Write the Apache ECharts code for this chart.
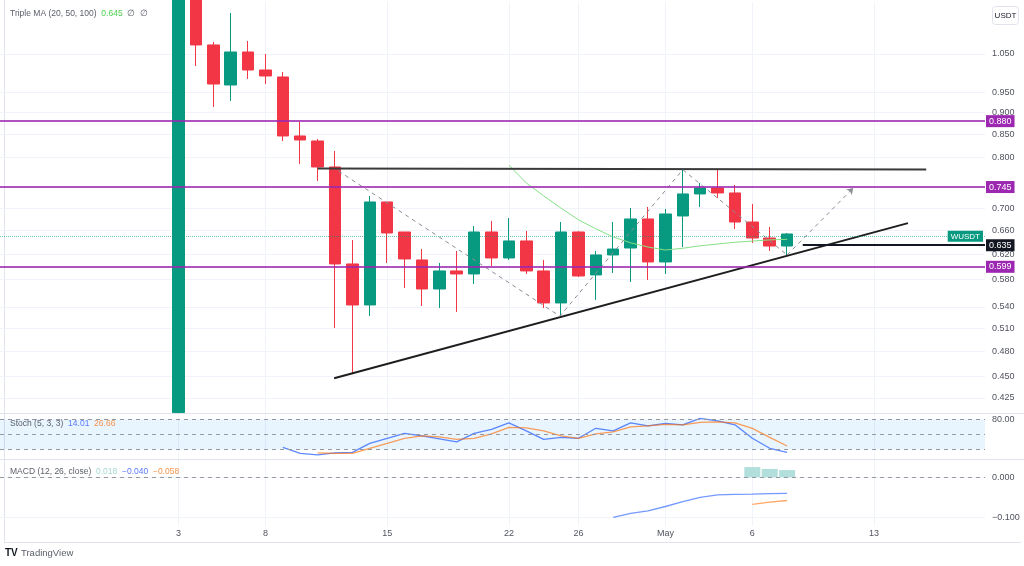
<!DOCTYPE html>
<html><head><meta charset="utf-8">
<script src="https://cdn.jsdelivr.net/npm/echarts@6/dist/echarts.min.js"></script>
<style>html,body{margin:0;padding:0;background:#fff}#c{width:1024px;height:566px}</style>
</head><body><div id="c"></div>
<script>
// ---------- data ----------
const dates = ['2024-04-03','2024-04-04','2024-04-05','2024-04-06','2024-04-07','2024-04-08','2024-04-09','2024-04-10','2024-04-11','2024-04-12',
  '2024-04-13','2024-04-14','2024-04-15','2024-04-16','2024-04-17','2024-04-18','2024-04-19','2024-04-20','2024-04-21','2024-04-22',
  '2024-04-23','2024-04-24','2024-04-25','2024-04-26','2024-04-27','2024-04-28','2024-04-29','2024-04-30','2024-05-01','2024-05-02',
  '2024-05-03','2024-05-04','2024-05-05','2024-05-06','2024-05-07','2024-05-08'];
const open  = [0.409,1.25,1.0752,0.9678,1.0555,1.0067,0.9884,0.8464,0.8353,0.7801,0.6045,0.5427,0.7115,0.6575,0.6109,0.5660,0.5935,0.5888,0.6575,0.6141,0.6422,0.5935,0.5456,0.6575,0.5873,0.6190,0.6304,0.6804,0.6077,0.6858,0.7267,0.7382,0.7286,0.6750,0.6472,0.6337];
const close = [1.25,1.0752,0.9703,1.0555,1.0067,0.9910,0.8464,0.8375,0.7801,0.6045,0.5427,0.7115,0.6558,0.6125,0.5660,0.5935,0.5888,0.6575,0.6141,0.6422,0.5935,0.5456,0.6575,0.5857,0.6190,0.6287,0.6804,0.6077,0.6894,0.7267,0.7382,0.7286,0.6750,0.6472,0.6337,0.6541];
const low   = [0.409,1.0174,0.9134,0.9279,0.9832,0.9703,0.8353,0.7863,0.7519,0.5108,0.4538,0.5272,0.6061,0.5675,0.5413,0.5384,0.5328,0.5735,0.6013,0.6109,0.5888,0.5384,0.5272,0.5842,0.5499,0.5903,0.5765,0.5796,0.5888,0.6321,0.7022,0.7191,0.6627,0.6388,0.6255,0.6173];
const high  = [1.32,1.30,1.0836,1.1695,1.0865,1.05,1.0015,0.8781,0.8397,0.8136,0.6438,0.7228,0.7115,0.6575,0.6287,0.6061,0.6255,0.6680,0.6769,0.6822,0.6593,0.6109,0.6750,0.6590,0.6255,0.6750,0.7004,0.7022,0.6985,0.7740,0.7479,0.7760,0.7440,0.7078,0.6662,0.6558];
const ma20 = [null,null,null,null,null,null,null,null,null,null,null,null,null,null,null,null,null,null,null,
  0.784,0.748,0.723,0.700,0.679,0.663,0.649,0.639,0.632,0.627,0.630,0.634,0.637,0.640,0.642,0.644,0.645];
const stochK = [null,null,null,null,null,null,24,12,9,13,14,32,42,52,47,41,35,52,60,73,57,40,44,42,62,57,73,67,72,69,82,77,69,42,22,14.01];
const stochD = [null,null,null,null,null,null,null,null,13,12,12,22,32,42,47,45,40,42,51,64,63,57,47,42,51,55,65,67,70,69,74,75,73,62,44,26.66];
const macdLine = [null,null,null,null,null,null,null,null,null,null,null,null,null,null,null,null,null,null,null,null,null,null,null,null,null,
  -0.100,-0.090,-0.084,-0.073,-0.061,-0.050,-0.044,-0.0425,-0.042,-0.041,-0.040];
const macdSignal = [null,null,null,null,null,null,null,null,null,null,null,null,null,null,null,null,null,null,null,null,null,null,null,null,null,
  null,null,null,null,null,null,null,null,-0.0675,-0.062,-0.058];
const macdHist = [null,null,null,null,null,null,null,null,null,null,null,null,null,null,null,null,null,null,null,null,null,null,null,null,null,
  null,null,null,null,null,null,null,null,0.0255,0.021,0.018];

// drawings (x in days from first date, y in price)
const resistanceLine = [[8, 0.777], [43, 0.775]];
const trendLine = [[8.95, 0.4476], [41.95, 0.673]];
const zigzag = [[9.2, 0.772], [21.93, 0.527], [29, 0.7745], [35, 0.619], [38.8, 0.738]];
const levels = [0.880, 0.745, 0.599];
const entryLevel = 0.635, entryStartX = 35.9;
const noteX = [41.4, 39.3, 38.3, 36.6];
const noteY = [0.899, 0.760, 0.5888, 0.6438];
const noteText = ['TP', 'TP', 'SL', 'entry'];

// ticks
const priceTicks = [1.05, 0.95, 0.9, 0.85, 0.8, 0.7, 0.66, 0.62, 0.58, 0.54, 0.51, 0.48, 0.45, 0.425];
const timeTickDates = ['2024-04-03','2024-04-08','2024-04-15','2024-04-22','2024-04-26','2024-05-01','2024-05-06','2024-05-13'];
const timeTickLabels = ['3','8','15','22','26','May','6','13'];

// ---------- chart ----------
const FONT = "'Liberation Sans', Arial, sans-serif";
const DAY = 864e5;
const t0 = Date.parse(dates[0]);
const xOf = d => (Date.parse(d) - t0) / DAY;
const X_MIN = -10.265, X_MAX = 46.38;
const P_MIN = 0.4085, P_MAX = 1.2038;
const timeTickX = timeTickDates.map(xOf);
const labelFor = v => { const i = timeTickX.findIndex(t => Math.abs(t - v) < 1e-6); return i >= 0 ? timeTickLabels[i] : ''; };
const pairs = arr => dates.map((d, i) => [xOf(d), arr[i]]).filter(p => p[1] != null);

const UP = '#089981', DOWN = '#f23645', PURPLE = '#9c27b0';
const AX_COL = '#50535e';

function xAxisCfg(i, show) {
  return { type: 'value', gridIndex: i, min: X_MIN, max: X_MAX,
    axisLine: { show: false }, axisTick: { show: false, customValues: timeTickX },
    splitLine: { show: true, lineStyle: { color: '#f0f3fa', width: 1 } },
    axisLabel: { show: show, customValues: timeTickX, formatter: labelFor, color: AX_COL, fontSize: 9, margin: 3, fontFamily: FONT } };
}

const candleData = dates.map((d, i) => [xOf(d), open[i], close[i], low[i], high[i]]);
const last = close[close.length - 1];

const option = {
  animation: false,
  backgroundColor: '#ffffff',
  grid: [
    { left: 0, right: 39, top: 2, height: 411 },
    { left: 0, right: 39, top: 414, height: 45 },
    { left: 0, right: 39, top: 460, height: 66 }
  ],
  xAxis: [xAxisCfg(0, false), xAxisCfg(1, false), xAxisCfg(2, true)],
  yAxis: [
    { type: 'log', logBase: 10, gridIndex: 0, position: 'right', min: P_MIN, max: P_MAX,
      axisLine: { show: false }, axisTick: { show: false, customValues: priceTicks },
      axisLabel: { customValues: priceTicks, formatter: v => v.toFixed(3), color: AX_COL, fontSize: 9, margin: 7, fontFamily: FONT },
      splitLine: { show: true, lineStyle: { color: '#f0f3fa', width: 1 } } },
    { type: 'value', gridIndex: 1, position: 'right', min: 0.6, max: 90.6,
      axisLine: { show: false }, axisTick: { show: false, customValues: [80] },
      axisLabel: { customValues: [80], formatter: v => v.toFixed(2), color: AX_COL, fontSize: 9, margin: 7, fontFamily: FONT },
      splitLine: { show: false } },
    { type: 'value', gridIndex: 2, position: 'right', min: -0.12175, max: 0.04325,
      axisLine: { show: false }, axisTick: { show: false, customValues: [0, -0.1] },
      axisLabel: { customValues: [0, -0.1], formatter: v => (v < 0 ? '\u2212' : '') + Math.abs(v).toFixed(3), color: AX_COL, fontSize: 9, margin: 7, fontFamily: FONT },
      splitLine: { show: true, lineStyle: { color: '#f0f3fa', width: 1 } } }
  ],
  series: [
    { type: 'candlestick', xAxisIndex: 0, yAxisIndex: 0, data: candleData, encode: { x: 0, y: [1, 2, 3, 4] },
      barWidth: 12, clip: true,
      itemStyle: { color: UP, color0: DOWN, borderColor: UP, borderColor0: DOWN, borderWidth: 1 },
      markLine: { silent: true, symbol: ['none', 'none'], animation: false,
        data: [{ yAxis: last, lineStyle: { color: 'rgba(8,153,129,0.6)', type: 'dotted', width: 1 },
          label: { show: true, position: 'insideEnd', distance: 2, formatter: 'WUSDT', color: '#ffffff', backgroundColor: UP,
            padding: [2, 3, 1, 3], fontSize: 8, fontFamily: FONT } }] } },
    { type: 'line', xAxisIndex: 0, yAxisIndex: 0, data: pairs(ma20), symbol: 'none',
      lineStyle: { color: '#86e186', width: 1 }, z: 3,
      markLine: { silent: true, symbol: ['none', 'none'], animation: false,
        data: levels.map(v => ({ yAxis: v, lineStyle: { color: 'rgba(156,39,176,0.8)', width: 2, type: 'solid' },
          label: { show: true, position: 'end', distance: 1, formatter: v.toFixed(3), color: '#fff', backgroundColor: PURPLE,
            padding: [2, 3, 1, 3], fontSize: 9, fontFamily: FONT } })).concat([[
          { coord: [entryStartX, entryLevel], lineStyle: { color: '#131722', width: 2, type: 'solid' },
            label: { show: true, position: 'end', distance: 1, formatter: entryLevel.toFixed(3), color: '#fff', backgroundColor: '#131722',
              padding: [2, 3, 1, 3], fontSize: 9, fontFamily: FONT } },
          { coord: [X_MAX, entryLevel] }]]) } },
    { type: 'line', xAxisIndex: 0, yAxisIndex: 0, data: resistanceLine, symbol: 'none',
      lineStyle: { color: '#3a3a3a', width: 2 }, z: 4 },
    { type: 'line', xAxisIndex: 0, yAxisIndex: 0, data: trendLine, symbol: 'none',
      lineStyle: { color: '#1e1e1e', width: 2 }, z: 4 },
    { type: 'line', xAxisIndex: 0, yAxisIndex: 0, data: zigzag.slice(0, 4), symbol: 'none',
      lineStyle: { color: '#8a8d96', width: 1, type: [4, 4] }, z: 4,
      markLine: { silent: true, animation: false, symbol: ['none', 'arrow'], symbolSize: 6,
        lineStyle: { color: '#8a8d96', width: 1, type: [4, 4] }, label: { show: false },
        data: [[{ coord: zigzag[3] }, { coord: zigzag[4] }]] } },
    { type: 'scatter', xAxisIndex: 0, yAxisIndex: 0, symbolSize: 1, itemStyle: { opacity: 0 }, z: 5,
      data: noteX.map((x, i) => [x, noteY[i], noteText[i]]),
      label: { show: true, position: 'inside', formatter: p => p.value[2], color: '#131722', fontSize: 9, fontStyle: 'italic', fontFamily: FONT } },
    // Stoch
    { type: 'line', xAxisIndex: 1, yAxisIndex: 1, data: pairs(stochK), symbol: 'none',
      lineStyle: { color: '#2962ff', width: 1.3, opacity: 0.75 }, z: 3,
      markArea: { silent: true, itemStyle: { color: 'rgba(33,150,243,0.1)' }, data: [[{ yAxis: 20 }, { yAxis: 80 }]] },
      markLine: { silent: true, symbol: ['none', 'none'], label: { show: false },
        lineStyle: { color: '#9598a1', type: [4, 4], width: 1 }, data: [{ yAxis: 80 }, { yAxis: 50 }, { yAxis: 20 }] } },
    { type: 'line', xAxisIndex: 1, yAxisIndex: 1, data: pairs(stochD), symbol: 'none',
      lineStyle: { color: '#ff6d00', width: 1.3, opacity: 0.65 }, z: 3 },
    // MACD
    { type: 'bar', xAxisIndex: 2, yAxisIndex: 2, data: pairs(macdHist), barWidth: 16,
      itemStyle: { color: '#b2dfdb' },
      markLine: { silent: true, symbol: ['none', 'none'], label: { show: false },
        lineStyle: { color: '#9598a1', type: [4, 4], width: 1 }, data: [{ yAxis: 0 }] } },
    { type: 'line', xAxisIndex: 2, yAxisIndex: 2, data: pairs(macdLine), symbol: 'none',
      lineStyle: { color: '#2962ff', width: 1.3, opacity: 0.65 } },
    { type: 'line', xAxisIndex: 2, yAxisIndex: 2, data: pairs(macdSignal), symbol: 'none',
      lineStyle: { color: '#ff6d00', width: 1.3, opacity: 0.6 } }
  ],
  graphic: [
    { type: 'line', shape: { x1: 0, y1: 413.5, x2: 1024, y2: 413.5 }, style: { stroke: '#e0e3eb', lineWidth: 1 }, silent: true },
    { type: 'line', shape: { x1: 0, y1: 459.5, x2: 1024, y2: 459.5 }, style: { stroke: '#e0e3eb', lineWidth: 1 }, silent: true },
    { type: 'line', shape: { x1: 4.5, y1: 0, x2: 4.5, y2: 542.5 }, style: { stroke: '#e0e3eb', lineWidth: 1 }, silent: true },
    { type: 'line', shape: { x1: 4, y1: 542.5, x2: 1021, y2: 542.5 }, style: { stroke: '#e0e3eb', lineWidth: 1 }, silent: true },
    { type: 'text', left: 10, top: 9, z: 10, silent: true,
      style: { text: '{a|Triple MA (20, 50, 100)}  {g|0.645}  {a|\u2205  \u2205}', font: '8.5px ' + FONT,
        rich: { a: { fill: '#5d606b', fontSize: 8.5, fontFamily: FONT }, g: { fill: '#4cd24c', fontSize: 8.5, fontFamily: FONT } } } },
    { type: 'text', left: 10, top: 419, z: 10, silent: true,
      style: { text: '{a|Stoch (5, 3, 3)}  {b|14.01}  {o|26.66}', font: '8.5px ' + FONT,
        rich: { a: { fill: '#5d606b', fontSize: 8.5, fontFamily: FONT }, b: { fill: '#5b7cff', fontSize: 8.5, fontFamily: FONT }, o: { fill: '#f7934a', fontSize: 8.5, fontFamily: FONT } } } },
    { type: 'text', left: 10, top: 467, z: 10, silent: true,
      style: { text: '{a|MACD (12, 26, close)}  {t|0.018}  {b|\u22120.040}  {o|\u22120.058}', font: '8.5px ' + FONT,
        rich: { a: { fill: '#5d606b', fontSize: 8.5, fontFamily: FONT }, t: { fill: '#a6d8d2', fontSize: 8.5, fontFamily: FONT }, b: { fill: '#5b7cff', fontSize: 8.5, fontFamily: FONT }, o: { fill: '#f7934a', fontSize: 8.5, fontFamily: FONT } } } },
    { type: 'rect', shape: { x: 992.5, y: 6.5, width: 26, height: 18, r: 3 }, style: { fill: '#fff', stroke: '#e0e3eb', lineWidth: 1 }, z: 10, silent: true },
    { type: 'text', x: 1005.5, y: 15.5, z: 11, silent: true,
      style: { text: 'USDT', fill: '#131722', font: '8px ' + FONT, textAlign: 'center', textVerticalAlign: 'middle' } },
    { type: 'text', left: 5, top: 548, z: 10, silent: true,
      style: { text: 'TV', fill: '#131722', font: 'bold 10px ' + FONT } },
    { type: 'text', left: 21, top: 548, z: 10, silent: true,
      style: { text: 'TradingView', fill: '#5d606b', font: '9.5px ' + FONT } }
  ]
};
const chart = echarts.init(document.getElementById('c'));
chart.setOption(option);
</script></body></html>
